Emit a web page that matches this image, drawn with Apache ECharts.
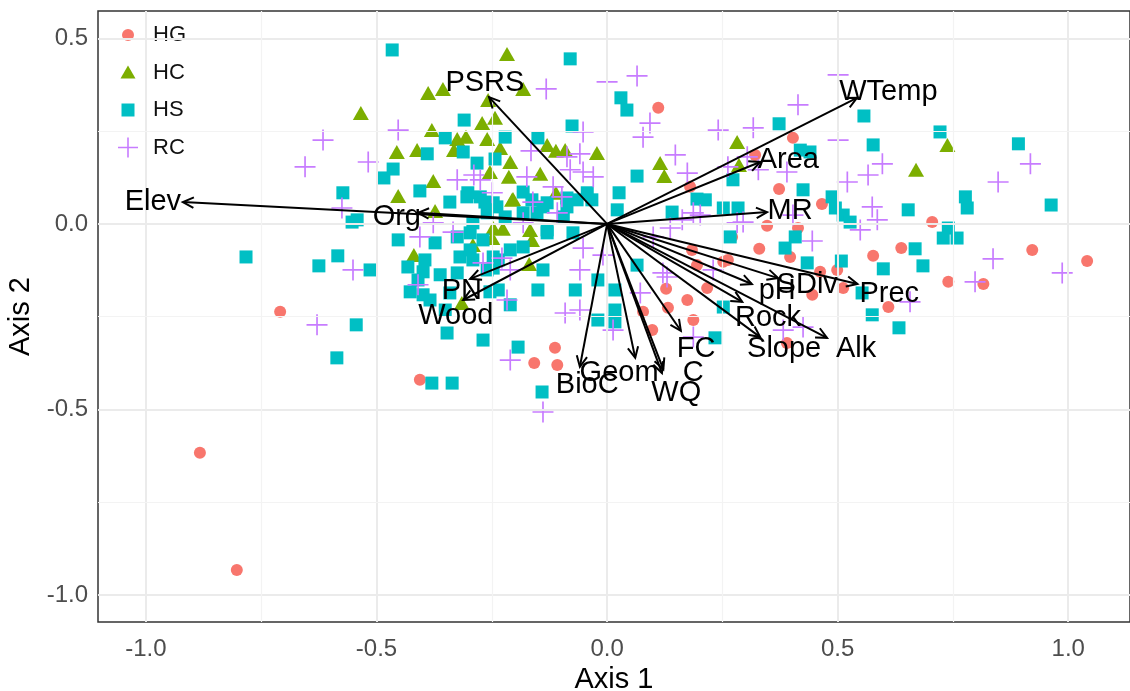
<!DOCTYPE html>
<html><head><meta charset="utf-8">
<script src="https://cdn.jsdelivr.net/npm/echarts@6/dist/echarts.min.js"></script>
<style>html,body{margin:0;padding:0;background:#fff}#c{width:1130px;height:691px}</style>
</head><body><div id="c"></div>
<script>
const FONT = 'Arial, "Liberation Sans", sans-serif';
const xTicks = [-1.0, -0.5, 0.0, 0.5, 1.0];
const yTicks = [-1.0, -0.5, 0.0, 0.5];
const xMinor = [-0.75, -0.25, 0.25, 0.75];
const yMinor = [-0.75, -0.25, 0.25];
const groups = ['HG', 'HC', 'HS', 'RC'];

const HG = [[0.111,0.313],[-0.883,-0.617],[-0.803,-0.933],[-0.709,-0.237],[-0.406,-0.420],[1.041,-0.100],[0.922,-0.070],[0.816,-0.162],[0.740,-0.156],[0.705,0.005],[0.638,-0.065],[0.610,-0.224],[0.499,-0.124],[0.512,-0.173],[0.462,-0.129],[0.577,-0.086],[0.445,-0.191],[0.390,-0.321],[0.403,0.232],[0.321,0.186],[0.373,0.094],[0.466,0.054],[0.180,0.100],[0.347,-0.005],[0.414,-0.011],[0.271,-0.035],[0.330,-0.067],[0.397,-0.089],[0.184,-0.070],[0.262,-0.097],[0.128,-0.175],[0.174,-0.205],[0.217,-0.173],[0.078,-0.237],[0.132,-0.226],[0.187,-0.259],[0.098,-0.286],[-0.113,-0.334],[-0.158,-0.375],[-0.108,-0.380],[0.195,-0.111],[0.252,-0.102]];

const HC = [[-0.217,0.458],[-0.388,0.353],[-0.356,0.364],[-0.182,0.364],[-0.258,0.334],[-0.534,0.299],[-0.380,0.253],[-0.271,0.272],[-0.243,0.286],[-0.325,0.229],[-0.306,0.235],[-0.260,0.229],[-0.232,0.205],[-0.456,0.194],[-0.412,0.199],[-0.332,0.199],[-0.210,0.167],[-0.254,0.140],[-0.213,0.127],[-0.145,0.135],[-0.377,0.116],[-0.453,0.075],[-0.204,0.067],[-0.111,0.084],[-0.130,0.213],[-0.111,0.197],[-0.091,0.199],[-0.022,0.191],[0.115,0.164],[0.124,0.129],[0.282,0.221],[0.286,0.159],[0.670,0.146],[0.738,0.213],[-0.373,0.035],[-0.247,-0.011],[-0.226,-0.013],[-0.167,-0.016],[-0.291,-0.057],[-0.419,-0.084],[-0.163,-0.043],[-0.169,-0.108],[-0.315,-0.213],[-0.206,0.065],[-0.249,-0.038]];

const HS = [[-0.466,0.469],[-0.080,0.445],[0.030,0.340],[0.043,0.307],[-0.310,0.280],[-0.076,0.264],[-0.351,0.232],[-0.221,0.234],[-0.150,0.232],[-0.312,0.194],[-0.390,0.189],[-0.282,0.164],[-0.243,0.175],[-0.464,0.148],[-0.484,0.124],[-0.406,0.089],[0.065,0.129],[0.026,0.084],[-0.341,0.059],[-0.304,0.073],[-0.265,0.059],[-0.239,0.046],[-0.182,0.086],[-0.163,0.065],[-0.139,0.046],[-0.087,0.070],[-0.043,0.084],[-0.033,0.065],[0.022,0.038],[0.141,0.032],[0.195,0.067],[0.213,0.065],[0.252,0.043],[0.284,0.043],[0.273,0.119],[-0.542,0.011],[-0.453,-0.043],[-0.325,-0.035],[-0.297,-0.024],[-0.260,0.030],[-0.221,0.019],[-0.182,0.030],[-0.152,0.030],[-0.130,-0.016],[-0.095,0.019],[0.267,-0.035],[-0.573,0.084],[-0.553,0.005],
[0.373,0.270],[0.557,0.291],[0.577,0.213],[0.722,0.248],[0.892,0.216],[0.419,0.199],[0.440,0.194],[0.425,0.092],[0.488,0.073],[0.495,0.043],[0.512,0.024],[0.527,0.005],[0.653,0.038],[0.777,0.073],[0.781,0.043],[0.740,-0.011],[0.729,-0.038],[0.759,-0.038],[0.963,0.051],[0.408,-0.035],[0.386,-0.065],[0.434,-0.105],[0.508,-0.100],[0.668,-0.067],[0.599,-0.121],[0.685,-0.113],[0.575,-0.245],[0.633,-0.280],[0.234,-0.307],[0.252,-0.224],[0.017,-0.178],[0.017,-0.232],[0.017,-0.264],[0.065,-0.111],[0.553,-0.186],
[-0.514,-0.124],[-0.544,-0.272],[-0.432,-0.116],[-0.427,-0.183],[-0.399,-0.129],[-0.373,-0.051],[-0.319,-0.089],[-0.325,-0.132],[-0.399,-0.191],[-0.341,-0.186],[-0.347,-0.294],[-0.269,-0.313],[-0.193,-0.332],[-0.380,-0.429],[-0.336,-0.429],[-0.141,-0.453],[-0.210,-0.218],[-0.236,-0.178],[-0.150,-0.178],[-0.069,-0.178],[-0.020,-0.259],[-0.020,-0.151],[-0.139,-0.124],[-0.236,-0.097],[-0.260,-0.124],[-0.210,-0.070],[-0.130,-0.024],[-0.074,-0.024],[-0.302,0.084],[-0.275,0.073],[-0.247,0.057],[-0.130,0.057],[-0.087,0.046],[-0.065,0.065],[-0.291,0.003],[-0.269,-0.043],[-0.297,-0.070],[-0.291,-0.097],[-0.247,-0.089],[-0.247,-0.119],[-0.182,-0.062],[-0.254,-0.183],
[-0.783,-0.089],[-0.625,-0.113],[-0.584,-0.086],[-0.586,-0.361],
[-0.395,-0.097],[-0.362,-0.137],[-0.384,-0.205],[-0.351,-0.232],[-0.410,-0.151]];

const RC = [[-0.616,0.226],[-0.655,0.154],[-0.518,0.167],[-0.575,0.043],[-0.453,0.253],[-0.132,0.364],[0.000,0.383],[0.065,0.399],[-0.325,0.119],[-0.289,0.132],[-0.165,0.197],[-0.087,0.181],[-0.059,0.189],[-0.052,0.248],[-0.080,0.146],[-0.052,0.140],[-0.030,0.127],[-0.117,0.100],[-0.174,0.127],[0.078,0.234],[0.093,0.272],[0.148,0.186],[0.174,0.137],[0.241,0.253],[0.187,0.030],[-0.108,0.030],[-0.182,0.003],[0.282,0.003],[-0.249,0.084],[-0.275,0.119],[0.501,0.402],[0.414,0.321],[0.317,0.259],[0.501,0.226],[0.597,0.162],[0.566,0.132],[0.521,0.113],[0.848,0.113],[0.918,0.162],[0.390,0.140],[0.328,0.146],[0.575,0.046],[0.586,0.011],[0.549,-0.016],[0.445,-0.046],[0.295,0.005],[0.403,0.024],[0.837,-0.094],[0.798,-0.156],[0.987,-0.132],[0.657,-0.210],[0.382,-0.286],[0.425,-0.278],[0.262,0.154],[0.304,0.181],[0.202,0.024],[0.163,0.011],[0.137,-0.011],[0.130,-0.143],[0.100,-0.035],[0.187,-0.305],[0.230,-0.124],[0.013,-0.286],[-0.551,-0.124],[-0.410,-0.164],[-0.269,-0.105],[-0.217,-0.205],[-0.210,-0.367],[-0.139,-0.507],[-0.091,-0.240],[-0.059,-0.232],[-0.059,-0.124],[-0.009,-0.084],[0.072,-0.186],[0.121,-0.132],[-0.629,-0.272],[-0.406,-0.035],[-0.334,-0.022],[-0.377,0.003],[-0.161,0.059],[-0.098,0.073],[-0.052,-0.065],[-0.210,-0.124],[-0.228,-0.092]];

const arrowNames = ['Elev','Org','PSRS','WTemp','Area','MR','SDiv','Prec','pH','Rock','Slope','Alk','FC','Geom','C','WQ','BioC','PN','Wood'];
const arrowX = [-0.920,-0.410,-0.256,0.542,0.332,0.347,0.371,0.543,0.314,0.293,0.332,0.477,0.160,0.061,0.122,0.119,-0.059,-0.297,-0.312];
const arrowY = [0.059,0.030,0.342,0.340,0.167,0.032,-0.146,-0.162,-0.162,-0.210,-0.305,-0.307,-0.288,-0.361,-0.392,-0.402,-0.385,-0.148,-0.205];
const labelX = [-0.985,-0.456,-0.265,0.610,0.393,0.397,0.434,0.612,0.369,0.349,0.384,0.540,0.193,0.026,0.187,0.150,-0.043,-0.315,-0.328];
const labelY = [0.059,0.019,0.380,0.356,0.173,0.035,-0.164,-0.189,-0.181,-0.253,-0.337,-0.337,-0.337,-0.402,-0.402,-0.456,-0.434,-0.181,-0.248];

const colors = {HG:'#F8766D', HC:'#7CAE00', HS:'#00BFC4', RC:'#C77CFF'};
const CROSS = 'path://M9.2,0H10.8V9.2H20V10.8H10.8V20H9.2V10.8H0V9.2H9.2Z';
const legendIcons = {
  HG:'path://M0,0M20,20M16,10A6,6,0,1,1,4,10A6,6,0,1,1,16,10Z',
  HC:'path://M0,0M20,20M10,3L17.5,16H2.5Z',
  HS:'path://M0,0M20,20M3.5,3.5H16.5V16.5H3.5Z',
  RC:CROSS
};

const chart = echarts.init(document.getElementById('c'), null, {renderer:'canvas'});

const gridLines = [];
xTicks.forEach(v => gridLines.push({xAxis:v, lineStyle:{color:'#EBEBEB', width:2, type:'solid'}}));
yTicks.forEach(v => gridLines.push({yAxis:v, lineStyle:{color:'#EBEBEB', width:2, type:'solid'}}));
xMinor.forEach(v => gridLines.push({xAxis:v, lineStyle:{color:'#F3F3F3', width:1.2, type:'solid'}}));
yMinor.forEach(v => gridLines.push({yAxis:v, lineStyle:{color:'#F3F3F3', width:1.2, type:'solid'}}));

function scatter(name, data, symbol, size) {
  return {name, type:'scatter', data, symbol, symbolSize:size, z:3,
    itemStyle:{color:colors[name], opacity:1}, emphasis:{disabled:true}};
}

chart.setOption({
  animation:false,
  backgroundColor:'#fff',
  grid:{left:98, right:0, top:11, bottom:69, show:true, borderColor:'#333', borderWidth:1.5,
    backgroundColor:'transparent', containLabel:false, outerBoundsMode:'none'},
  legend:{orient:'vertical', left:108, top:16, padding:[8,14,6,10], backgroundColor:'#fff',
    itemWidth:20, itemHeight:20, itemGap:15.5,
    data:groups.map(g => ({name:g, icon:legendIcons[g]})),
    textStyle:{fontSize:22, color:'#111', fontFamily:FONT, padding:[0,0,0,10], lineHeight:22}},
  xAxis:{type:'value', min:-1.104, max:1.134, name:'Axis 1', nameLocation:'middle', nameGap:41,
    nameTextStyle:{fontSize:29, color:'#000', fontFamily:FONT},
    splitLine:{show:false}, axisLine:{show:false},
    axisTick:{show:true, customValues:xTicks, length:5, lineStyle:{color:'#333', width:1.5}},
    axisLabel:{customValues:xTicks, fontSize:24, color:'#4D4D4D', fontFamily:FONT, margin:15,
      formatter:v=>v.toFixed(1)}},
  yAxis:{type:'value', min:-1.073, max:0.574, name:'Axis 2', nameLocation:'middle', nameGap:53,
    nameTextStyle:{fontSize:29, color:'#000', fontFamily:FONT},
    splitLine:{show:false}, axisLine:{show:false},
    axisTick:{show:true, customValues:yTicks, length:5, lineStyle:{color:'#333', width:1.5}},
    axisLabel:{customValues:yTicks, fontSize:24, color:'#4D4D4D', fontFamily:FONT, margin:10,
      formatter:v=>v.toFixed(1)}},
  series:[
    {type:'scatter', data:[], z:1, silent:true,
      markLine:{silent:true, symbol:['none','none'], label:{show:false}, animation:false, data:gridLines}},
    scatter('HG', HG, 'circle', 12),
    scatter('HC', HC, 'triangle', [16,14]),
    scatter('HS', HS, 'rect', 13),
    scatter('RC', RC, CROSS, 21),
    {type:'custom', z:5, silent:true,
      data: arrowX.map((x,i)=>[x, arrowY[i]]),
      encode:{x:0, y:1},
      renderItem:(params, api)=>{
        const p0 = api.coord([0,0]);
        const p1 = api.coord([api.value(0), api.value(1)]);
        const ang = Math.atan2(p1[1]-p0[1], p1[0]-p0[0]);
        const L = 12, a = Math.PI/7;
        const h1 = [p1[0]-L*Math.cos(ang-a), p1[1]-L*Math.sin(ang-a)];
        const h2 = [p1[0]-L*Math.cos(ang+a), p1[1]-L*Math.sin(ang+a)];
        return {type:'group', children:[
          {type:'line', shape:{x1:p0[0], y1:p0[1], x2:p1[0], y2:p1[1]}, style:{stroke:'#000', lineWidth:2}},
          {type:'polyline', shape:{points:[h1,p1,h2]}, style:{stroke:'#000', lineWidth:2, fill:null}}
        ]};
      }},
    {type:'custom', z:6, silent:true,
      data: labelX.map((x,i)=>[x, labelY[i]]),
      encode:{x:0, y:1},
      renderItem:(params, api)=>{
        const p = api.coord([api.value(0), api.value(1)]);
        return {type:'text', x:p[0], y:p[1], style:{text:arrowNames[params.dataIndex], fontSize:29,
          fontFamily:FONT, fill:'#000', align:'center', verticalAlign:'middle'}};
      }}
  ]
});
</script>
</body></html>
